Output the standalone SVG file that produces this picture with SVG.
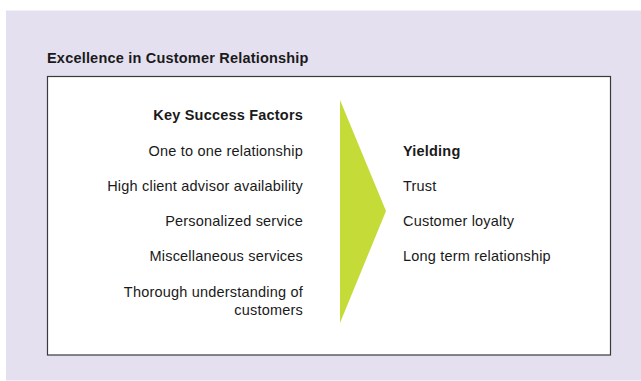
<svg xmlns="http://www.w3.org/2000/svg" width="641" height="381" viewBox="0 0 641 381">
  <style>
    text { font-family: "Liberation Sans", Arial, sans-serif; font-size: 14.5px; letter-spacing: 0.2px; fill: #1a1a1a; }
    .b { font-weight: bold; }
    .r { text-anchor: end; }
  </style>
  <!-- page background -->
  <rect x="0" y="0" width="641" height="381" fill="#ffffff"/>
  <rect x="6" y="10.5" width="635" height="370" fill="#e4e0ef"/>
  <g id="title">
    <text class="b" x="47" y="63">Excellence in Customer Relationship</text>
  </g>
  <!-- framed content area -->
  <g id="frame">
    <rect x="47.5" y="76.5" width="563" height="278.5" fill="#ffffff" stroke="#3a3a3a" stroke-width="1.2"/>
  </g>
  <g id="connectors">
    <polygon id="arrow" points="340,100 386,211 340,323" fill="#c5dc38"/>
  </g>
  <g id="factors">
    <text class="b r" x="303" y="120">Key Success Factors</text>
    <text class="r" x="303" y="156">One to one relationship</text>
    <text class="r" x="303" y="191">High client advisor availability</text>
    <text class="r" x="303" y="226">Personalized service</text>
    <text class="r" x="303" y="261">Miscellaneous services</text>
    <text class="r" x="303" y="297">Thorough understanding of</text>
    <text class="r" x="303" y="315">customers</text>
  </g>
  <g id="yielding">
    <text class="b" x="403" y="156">Yielding</text>
    <text x="403" y="191">Trust</text>
    <text x="403" y="226">Customer loyalty</text>
    <text x="403" y="261">Long term relationship</text>
  </g>
</svg>
